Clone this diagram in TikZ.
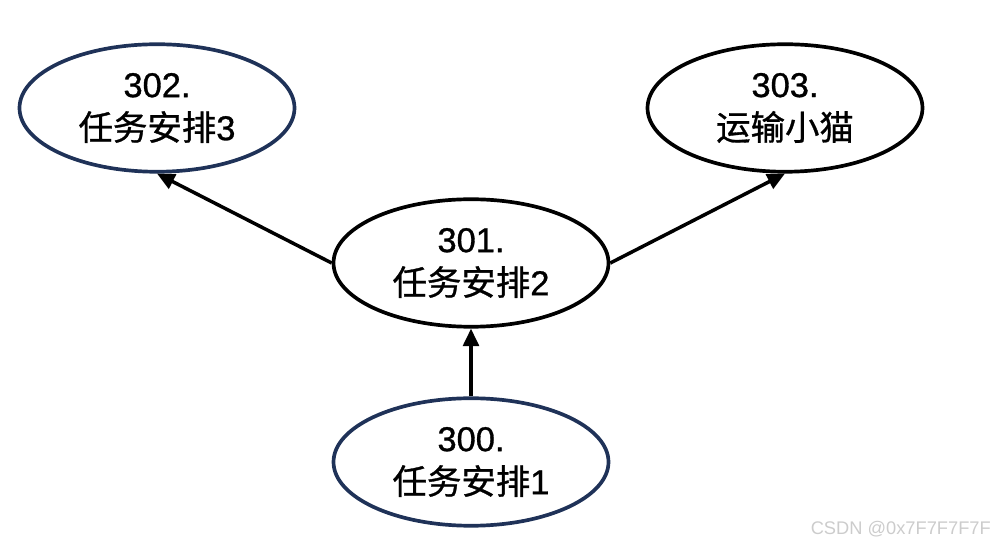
\documentclass[tikz,border=0pt]{standalone}
\usepackage{fontspec}
\setmainfont{Liberation Sans}
\newfontfamily\lbl{Liberation Sans}[FakeBold=0.9]
\newfontfamily\cjk{Noto Sans CJK SC}[FakeBold=0.9]
\usetikzlibrary{arrows.meta}
\usetikzlibrary{shapes.geometric}
\definecolor{task-blue}{RGB}{31, 50, 88}

\begin{document}
\begin{tikzpicture}[
    task/.style={ellipse, draw=black, line width=2.1pt, minimum width=5.5cm, minimum height=2.55cm, inner sep=0pt, align=center, font=\fontsize{19.6}{24.5}\selectfont\lbl},
    bluetask/.style={task, draw=task-blue},
    link/.style={line width=2pt, -{Triangle[length=10pt, width=9pt]}}
]
\useasboundingbox (0,0) rectangle (20,10.94);
\node[bluetask] (t302) at (3.14,8.78) {302.\\{\cjk 任务安排}3};
\node[task] (t303) at (15.7,8.78) {303.\\{\cjk 运输小猫}};
\node[task] (t301) at (9.42,5.68) {301.\\{\cjk 任务安排}2};
\node[bluetask] (t300) at (9.42,1.70) {300.\\{\cjk 任务安排}1};
\draw[link] (t300.north) -- (t301.south);
\draw[link] (t301.west) -- (t302.south);
\draw[link] (t301.east) -- (t303.south);
\node[anchor=base east, text=gray!40, font=\fontsize{10.4}{12}\selectfont] (mark) at (19.94,0.24) {CSDN @0x7F7F7F7F};
\end{tikzpicture}
\end{document}
